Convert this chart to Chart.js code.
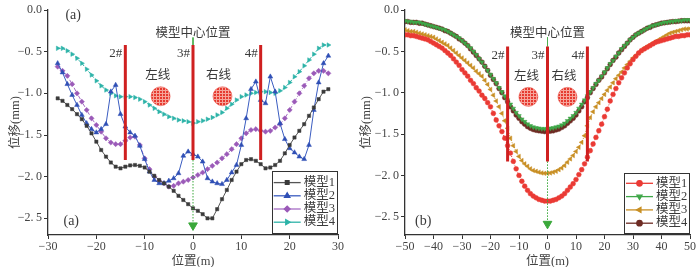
<!DOCTYPE html>
<html><head><meta charset="utf-8">
<script src="https://cdn.jsdelivr.net/npm/chart.js@4.4.1/dist/chart.umd.min.js"></script>
<style>
html,body{margin:0;padding:0;background:#fff;width:700px;height:267px;overflow:hidden}
canvas{position:absolute;top:0}
#cA{left:0}#cB{left:350px}
</style></head>
<body>
<canvas id="cA" width="350" height="267"></canvas>
<canvas id="cB" width="350" height="267"></canvas>
<script>
// ---------- Panel (a) data ----------
const xA = [-28,-27,-26,-25,-24,-23,-22,-21,-20,-19,-18,-17,-16,-15,-14,-13,-12,-11,-10,-9,-8,-7,-6,-5,-4,-3,-2,-1,0,1,2,3,4,5,6,7,8,9,10,11,12,13,14,15,16,17,18,19,20,21,22,23,24,25,26,27,28];
const a1 = [-1.06,-1.09,-1.14,-1.19,-1.25,-1.31,-1.39,-1.48,-1.58,-1.68,
  -1.76,-1.83,-1.88,-1.90,-1.88,-1.865,-1.86,-1.87,-1.89,-1.94,
  -1.99,-2.04,-2.08,-2.12,-2.17,-2.23,-2.28,-2.33,-2.38,-2.41,
  -2.45,-2.50,-2.50,-2.39,-2.27,-2.16,-2.04,-1.94,-1.85,-1.80,
  -1.79,-1.81,-1.85,-1.90,-1.89,-1.86,-1.81,-1.72,-1.62,-1.53,
  -1.45,-1.37,-1.27,-1.17,-1.07,-0.98,-0.95];
const a2 = [-0.64,-0.75,-0.89,-1.02,-1.14,-1.26,-1.36,-1.43,-1.47,-1.43,
  -1.37,-0.98,-0.90,-1.25,-1.40,-1.47,-1.51,-1.63,-1.79,-1.94,
  -2.04,-2.08,-2.08,-2.05,-2.02,-1.96,-1.75,-1.70,-1.73,-1.76,
  -1.82,-2.02,-2.06,-2.08,-2.09,-2.04,-1.95,-1.86,-1.62,-1.30,
  -0.95,-0.86,-1.08,-1.12,-0.80,-0.98,-1.36,-1.55,-1.66,-1.71,
  -1.76,-1.79,-1.62,-1.20,-0.87,-0.64,-0.55];
const a3 = [-0.68,-0.73,-0.79,-0.89,-1.00,-1.10,-1.20,-1.30,-1.38,-1.46,
  -1.54,-1.59,-1.61,-1.61,-1.57,-1.53,-1.52,-1.62,-1.78,-1.91,
  -2.00,-2.05,-2.08,-2.12,-2.11,-2.08,-2.06,-2.04,-2.01,-1.98,
  -1.95,-1.91,-1.87,-1.83,-1.78,-1.73,-1.67,-1.61,-1.54,-1.48,
  -1.44,-1.43,-1.45,-1.46,-1.45,-1.41,-1.37,-1.30,-1.20,-1.10,
  -1.00,-0.91,-0.82,-0.76,-0.73,-0.73,-0.76];
const a4 = [-0.46,-0.46,-0.49,-0.53,-0.58,-0.64,-0.71,-0.78,-0.85,-0.91,
  -0.96,-1.00,-1.03,-1.04,-1.04,-1.04,-1.05,-1.07,-1.10,-1.14,
  -1.18,-1.22,-1.25,-1.28,-1.30,-1.32,-1.33,-1.34,-1.36,-1.34,
  -1.33,-1.31,-1.29,-1.26,-1.23,-1.18,-1.13,-1.08,-1.04,-1.02,
  -1.00,-0.99,-0.98,-0.98,-0.99,-1.00,-0.97,-0.93,-0.87,-0.80,
  -0.74,-0.67,-0.60,-0.53,-0.46,-0.42,-0.42];
const xTicksA = [-30,-20,-10,0,10,20,30];

// ---------- Panel (b) data ----------
const xB = [-50,-49,-48,-47,-46,-45,-44,-43,-42,-41,-40,-39,-38,-37,-36,-35,-34,-33,-32,-31,-30,-29,-28,-27,-26,-25,-24,-23,-22,-21,-20,-19,-18,-17,-16,-15,-14,-13,-12,-11,-10,-9,-8,-7,-6,-5,-4,-3,-2,-1,0,1,2,3,4,5,6,7,8,9,10,11,12,13,14,15,16,17,18,19,20,21,22,23,24,25,26,27,28,29,30,31,32,33,34,35,36,37,38,39,40,41,42,43,44,45,46,47,48,49,50];
const b1 = [-0.30,-0.30,-0.31,-0.31,-0.32,-0.33,-0.34,-0.35,-0.36,-0.38,
  -0.40,-0.42,-0.44,-0.46,-0.49,-0.52,-0.55,-0.59,-0.63,-0.67,
  -0.72,-0.76,-0.80,-0.85,-0.89,-0.94,-0.98,-1.03,-1.07,-1.12,
  -1.17,-1.25,-1.33,-1.40,-1.47,-1.55,-1.64,-1.73,-1.83,-1.92,
  -2.00,-2.07,-2.13,-2.18,-2.22,-2.25,-2.27,-2.29,-2.30,-2.31,
  -2.31,-2.31,-2.30,-2.29,-2.27,-2.25,-2.22,-2.18,-2.14,-2.10,
  -2.05,-1.99,-1.93,-1.86,-1.78,-1.70,-1.62,-1.54,-1.46,-1.38,
  -1.29,-1.20,-1.10,-1.02,-0.95,-0.88,-0.82,-0.76,-0.70,-0.65,
  -0.60,-0.56,-0.52,-0.49,-0.47,-0.45,-0.43,-0.41,-0.39,-0.38,
  -0.37,-0.36,-0.35,-0.34,-0.33,-0.32,-0.32,-0.31,-0.31,-0.30,
  -0.30];
const b2 = [-0.13,-0.14,-0.14,-0.15,-0.15,-0.15,-0.16,-0.17,-0.18,-0.19,
  -0.20,-0.21,-0.22,-0.23,-0.24,-0.26,-0.28,-0.30,-0.32,-0.34,
  -0.37,-0.40,-0.43,-0.46,-0.50,-0.54,-0.59,-0.63,-0.68,-0.73,
  -0.78,-0.83,-0.88,-0.94,-0.99,-1.04,-1.09,-1.14,-1.19,-1.24,
  -1.28,-1.32,-1.35,-1.38,-1.40,-1.415,-1.425,-1.43,-1.435,-1.435,
  -1.435,-1.43,-1.425,-1.415,-1.405,-1.39,-1.37,-1.34,-1.31,-1.28,
  -1.24,-1.19,-1.14,-1.09,-1.04,-0.99,-0.94,-0.89,-0.85,-0.80,
  -0.75,-0.70,-0.65,-0.61,-0.56,-0.52,-0.47,-0.43,-0.40,-0.36,
  -0.33,-0.30,-0.28,-0.26,-0.24,-0.22,-0.20,-0.19,-0.18,-0.17,
  -0.16,-0.15,-0.15,-0.14,-0.14,-0.13,-0.13,-0.13,-0.12,-0.12,
  -0.12];
const b3 = [-0.24,-0.25,-0.26,-0.26,-0.27,-0.28,-0.29,-0.30,-0.31,-0.32,
  -0.33,-0.35,-0.37,-0.39,-0.41,-0.43,-0.46,-0.49,-0.52,-0.55,
  -0.58,-0.61,-0.64,-0.67,-0.70,-0.74,-0.77,-0.80,-0.85,-0.90,
  -0.96,-1.03,-1.10,-1.17,-1.25,-1.34,-1.43,-1.55,-1.64,-1.71,
  -1.77,-1.82,-1.86,-1.89,-1.92,-1.94,-1.95,-1.96,-1.97,-1.975,
  -1.975,-1.97,-1.96,-1.95,-1.93,-1.91,-1.88,-1.84,-1.80,-1.76,
  -1.71,-1.66,-1.60,-1.52,-1.40,-1.30,-1.23,-1.17,-1.12,-1.07,
  -1.02,-0.97,-0.93,-0.88,-0.83,-0.79,-0.75,-0.70,-0.66,-0.62,
  -0.58,-0.55,-0.52,-0.49,-0.46,-0.44,-0.42,-0.40,-0.38,-0.36,
  -0.34,-0.32,-0.30,-0.28,-0.27,-0.26,-0.25,-0.24,-0.23,-0.23,
  -0.225];
const b4 = [-0.14,-0.14,-0.15,-0.15,-0.15,-0.16,-0.16,-0.17,-0.18,-0.19,
  -0.20,-0.21,-0.22,-0.23,-0.25,-0.26,-0.28,-0.30,-0.32,-0.35,
  -0.37,-0.40,-0.43,-0.47,-0.51,-0.55,-0.59,-0.63,-0.68,-0.73,
  -0.79,-0.84,-0.89,-0.95,-1.00,-1.06,-1.11,-1.17,-1.22,-1.27,
  -1.31,-1.35,-1.38,-1.41,-1.43,-1.445,-1.455,-1.46,-1.465,-1.47,
  -1.47,-1.465,-1.46,-1.45,-1.44,-1.42,-1.40,-1.37,-1.34,-1.31,
  -1.27,-1.22,-1.17,-1.11,-1.06,-1.00,-0.95,-0.90,-0.85,-0.81,
  -0.76,-0.71,-0.66,-0.61,-0.57,-0.52,-0.48,-0.44,-0.40,-0.36,
  -0.33,-0.30,-0.28,-0.26,-0.24,-0.22,-0.21,-0.19,-0.18,-0.17,
  -0.16,-0.155,-0.15,-0.145,-0.14,-0.14,-0.135,-0.13,-0.13,-0.13,
  -0.13];
const xTicksB = [-50,-40,-30,-20,-10,0,10,20,30,40,50];
const yTicks = [0,-0.5,-1.0,-1.5,-2.0,-2.5];
const seriesNames = ['模型1','模型2','模型3','模型4'];

// ---------- annotations ----------
const pileX = [-14, 0, 14];
const pileNames = ['2#','3#','4#'];
const pileTopA = -0.42, pileBotA = -1.80;
const pileTopB = -0.44, pileBotB = -1.83;
const tunnelXA = [-6.7, 6.1], tunnelYA = -1.035;
const tunnelXB = [-6.7, 7.0], tunnelYB = -1.05;
const tunnelNames = ['左线','右线'];
const tunnelLabelXA = [-7.3, 5.3], tunnelLabelXB = [-7.4, 5.8];
const centerName = '模型中心位置';

const SERIF = '"Liberation Serif","Noto Sans CJK SC",serif';
const TXT = '#3a3a3a';

function tunnelPattern(){
  const c = document.createElement('canvas'); c.width = 3; c.height = 3;
  const g = c.getContext('2d');
  g.fillStyle = '#e63a30'; g.fillRect(0,0,3,3);
  g.fillStyle = '#f6a49a'; g.fillRect(0,0,3,1); g.fillRect(0,0,1,3);
  return g.createPattern(c,'repeat');
}
const pat = tunnelPattern();

function pts(xs, ys){ return xs.map((x,i)=>({x:x, y:ys[i]})); }

function series(label, xs, ys, color, lineColor, style, rot, dash, r){
  return {label, legend:true, data:pts(xs,ys), showLine:true,
    borderColor:lineColor, backgroundColor:color,
    pointBackgroundColor:color, pointBorderColor:color, pointBorderWidth:0.5,
    pointStyle:style, pointRotation:rot, pointRadius:r, pointHoverRadius:r,
    borderWidth:1, borderDash:dash, order:5};
}
function seg(x, y0, y1, color, w, dash, order){
  return {data:[{x:x,y:y0},{x:x,y:y1}], showLine:true, borderColor:color, borderWidth:w,
    borderDash:dash||[], pointRadius:0, borderCapStyle:'butt', order:order};
}

function annDatasets(top, bot, tx, ty){
  const ds = [];
  ds.push(seg(0, -0.33, top, '#4caf50', 1, [], 3));
  ds.push(seg(0, bot, -2.55, '#3aa83a', 1, [1.5,1.5], 3));
  pileX.forEach(px => ds.push(seg(px, top, bot, '#cf2020', 3, [], 1)));
  ds.push({data:[{x:0,y:-2.585}], pointStyle:'triangle', pointRotation:180, pointRadius:5,
    pointBackgroundColor:'#3aa83a', pointBorderColor:'#3aa83a', order:2});
  ds.push({data:tx.map(x=>({x:x,y:ty})), pointStyle:'circle', pointRadius:9.5,
    pointBackgroundColor:pat, pointBorderColor:'#e63a30', pointBorderWidth:0.5, order:4});
  return ds;
}

const fmtY = v => v === 0 ? '0.0' : '\u2212' + Math.abs(v).toFixed(1).replace('.', '.\u2009');
const fmtX = v => v < 0 ? '\u2212' + Math.abs(v) : String(v);

const annotPlugin = {
  id:'annot',
  afterDatasetsDraw(chart, args, o){
    const {ctx} = chart; const x = chart.scales.x, y = chart.scales.y;
    ctx.save();
    ctx.fillStyle = TXT; ctx.textBaseline = 'middle';
    ctx.font = '13px ' + SERIF; ctx.textAlign = 'right';
    pileX.forEach((px,i)=> ctx.fillText(pileNames[i], x.getPixelForValue(px)-3, y.getPixelForValue(o.labelY)));
    ctx.font = '12.5px ' + SERIF; ctx.textAlign = 'center';
    ctx.fillText(centerName, x.getPixelForValue(0), y.getPixelForValue(-0.29));
    o.tunnelLabelX.forEach((tx,i)=> ctx.fillText(tunnelNames[i], x.getPixelForValue(tx), y.getPixelForValue(o.tunnelLabelY)));
    ctx.font = '14px ' + SERIF; ctx.textAlign = 'left';
    o.tags.forEach(t => ctx.fillText(t.text, x.getPixelForValue(t.x), y.getPixelForValue(t.y)));
    ctx.restore();
  }
};

const legendPlugin = {
  id:'lgd',
  afterDraw(chart, args, o){
    const {ctx, chartArea:ca} = chart;
    const x0 = ca.right - o.dx - o.w, y0 = ca.bottom - o.dy - o.h;
    ctx.save();
    ctx.fillStyle = '#fff'; ctx.fillRect(x0, y0, o.w, o.h);
    ctx.strokeStyle = '#333'; ctx.lineWidth = 1; ctx.setLineDash([]);
    ctx.strokeRect(Math.round(x0)+0.5, Math.round(y0)+0.5, o.w, o.h);
    const items = chart.data.datasets.filter(d => d.legend);
    items.forEach((d,i) => {
      const yy = y0 + o.first + i*o.step;
      ctx.strokeStyle = d.borderColor; ctx.lineWidth = 1.3;
      ctx.beginPath(); ctx.moveTo(x0+2, yy); ctx.lineTo(x0+2+o.lineLen, yy); ctx.stroke();
      ctx.fillStyle = d.pointBackgroundColor; ctx.strokeStyle = d.pointBackgroundColor;
      Chart.helpers.drawPoint(ctx, {pointStyle:d.pointStyle, rotation:d.pointRotation, radius:d.pointRadius+0.3, borderWidth:0.5}, x0+2+o.lineLen/2, yy);
      ctx.fillStyle = TXT; ctx.font = '12.5px ' + SERIF; ctx.textAlign = 'left'; ctx.textBaseline = 'middle';
      ctx.fillText(d.label, x0+o.lineLen+5, yy);
    });
    ctx.restore();
  }
};

function scales(xmin, xmax, xt, ymin, yw, tpad){
  const tickFont = {family:SERIF, size:12};
  return {
    x:{type:'linear', min:xmin, max:xmax,
      afterBuildTicks: s => { s.ticks = xt.map(v => ({value:v})); },
      afterFit: s => { s.height = 32; },
      grid:{drawOnChartArea:false, drawTicks:true, tickLength:4, color:'#333', lineWidth:1},
      border:{display:true, color:'#333', width:1.3},
      ticks:{font:tickFont, color:'#444', padding:1, maxRotation:0, autoSkip:false, callback: v => fmtX(v)},
      title:{display:true, text:'位置(m)', font:{family:SERIF, size:12.5}, color:'#444', padding:{top:0, bottom:-2}}},
    y:{type:'linear', min:ymin, max:0,
      afterBuildTicks: s => { s.ticks = yTicks.map(v => ({value:v})); },
      afterFit: s => { s.width = yw; },
      grid:{drawOnChartArea:false, drawTicks:true, tickLength:4, color:'#333', lineWidth:1},
      border:{display:true, color:'#333', width:1.3},
      ticks:{font:tickFont, color:'#444', padding:2, autoSkip:false, callback: v => fmtY(v)},
      title:{display:true, text:'位移(mm)', font:{family:SERIF, size:12.5}, color:'#444', padding:{top:tpad, bottom:0}}}
  };
}

const common = {responsive:false, animation:false, events:[],
  plugins:{legend:{display:false}, tooltip:{enabled:false}}};

new Chart(document.getElementById('cA'), {
  type:'scatter',
  data:{datasets:[
    series(seriesNames[0], xA, a1, '#3a3a3a', '#555555', 'rect', 0, [], 2.3),
    series(seriesNames[1], xA, a2, '#2f4fb5', '#3a5cc0', 'triangle', 0, [], 2.8),
    series(seriesNames[2], xA, a3, '#9b5ab8', '#a66cc4', 'rectRot', 0, [4,2,1,2], 2.6),
    series(seriesNames[3], xA, a4, '#2db3a8', '#2db3a8', 'triangle', 90, [3,2], 2.6),
    ...annDatasets(pileTopA, pileBotA, tunnelXA, tunnelYA)
  ]},
  options:{...common,
    layout:{padding:{left:0, right:12, top:4, bottom:0}},
    scales:scales(-30, 30, xTicksA, -2.70, 48, 8),
    plugins:{...common.plugins,
      annot:{labelY:-0.52, tunnelLabelX:tunnelLabelXA, tunnelLabelY:-0.79,
        tags:[{text:'(a)', x:-26.4, y:-0.06}, {text:'(a)', x:-26.8, y:-2.54}]},
      lgd:{w:65, h:62, dx:1.3, dy:1.7, first:11.3, step:13.2, lineLen:27}}},
  plugins:[annotPlugin, legendPlugin]
});

new Chart(document.getElementById('cB'), {
  type:'scatter',
  data:{datasets:[
    series(seriesNames[0], xB, b1, '#ea3a34', '#ea3a34', 'circle', 0, [1,1.5], 2.4),
    series(seriesNames[1], xB, b2, '#3fa748', '#3fa748', 'triangle', 180, [1,1.5], 2.6),
    series(seriesNames[2], xB, b3, '#c88f24', '#c88f24', 'triangle', -90, [1,1.5], 2.6),
    series(seriesNames[3], xB, b4, '#6e2c24', '#6e2c24', 'circle', 0, [1,1.5], 2.4),
    ...annDatasets(pileTopB, pileBotB, tunnelXB, tunnelYB)
  ]},
  options:{...common,
    layout:{padding:{left:0, right:6, top:4, bottom:0}},
    scales:scales(-50, 50, xTicksB, -2.72, 55, 9),
    plugins:{...common.plugins,
      annot:{labelY:-0.55, tunnelLabelX:tunnelLabelXB, tunnelLabelY:-0.81,
        tags:[{text:'(b)', x:-46.5, y:-2.55}]},
      lgd:{w:65, h:60, dx:1, dy:2, first:10.3, step:13.3, lineLen:27}}},
  plugins:[annotPlugin, legendPlugin]
});
</script>
</body></html>
